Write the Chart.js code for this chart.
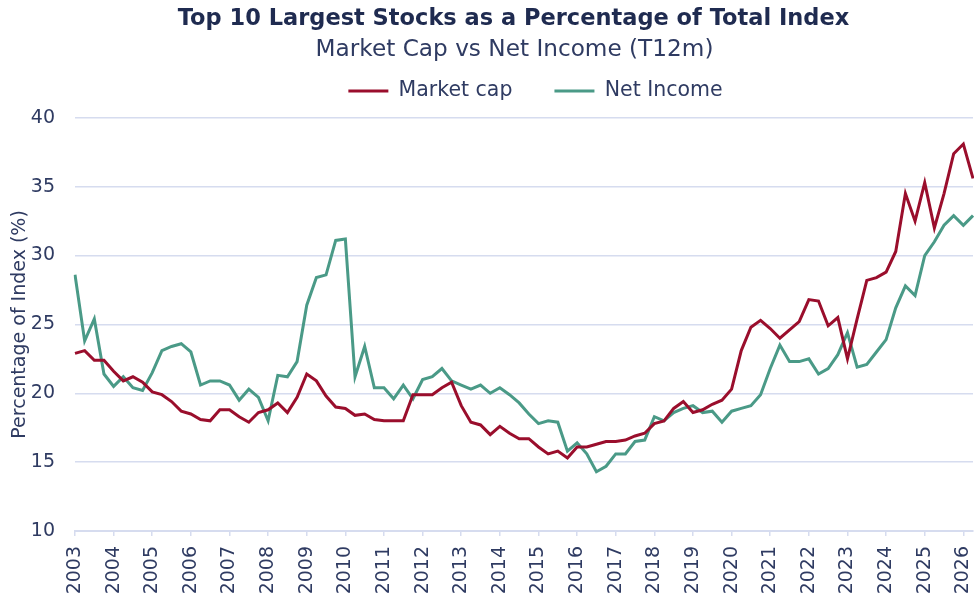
<!DOCTYPE html>
<html>
<head>
<meta charset="utf-8">
<title>Top 10 Largest Stocks as a Percentage of Total Index</title>
<script src="https://cdn.jsdelivr.net/npm/chart.js@4.4.1/dist/chart.umd.min.js"></script>
<style>
  html, body { margin: 0; padding: 0; background: #fff; }
  #wrap { width: 974px; height: 595px; }
</style>
</head>
<body>
<div id="wrap"><canvas id="chart"></canvas></div>
<script>
// quarterly data, 2003 Q1 .. 2026 Q2
const years = [2003, 2004, 2005, 2006, 2007, 2008, 2009, 2010, 2011, 2012, 2013, 2014,
  2015, 2016, 2017, 2018, 2019, 2020, 2021, 2022, 2023, 2024, 2025, 2026];

const marketCap = [
  22.9, 23.1, 22.4, 22.4, 21.6, 20.9, 21.2, 20.8, 20.1, 19.9, 19.4, 18.7,
  18.5, 18.1, 18.0, 18.8, 18.8, 18.3, 17.9, 18.6, 18.8, 19.3, 18.6, 19.7,
  21.4, 20.9, 19.8, 19.0, 18.9, 18.4, 18.5, 18.1, 18.0, 18.0, 18.0, 19.9,
  19.9, 19.9, 20.4, 20.8, 19.1, 17.9, 17.7, 17.0, 17.6, 17.1, 16.7, 16.7,
  16.1, 15.6, 15.8, 15.3, 16.1, 16.1, 16.3, 16.5, 16.5, 16.6, 16.9, 17.1,
  17.8, 18.0, 18.9, 19.4, 18.6, 18.8, 19.2, 19.5, 20.3, 23.1, 24.8, 25.3,
  24.7, 24.0, 24.6, 25.2, 26.8, 26.7, 24.9, 25.5, 22.5, 25.4, 28.2, 28.4,
  28.8, 30.3, 34.5, 32.5, 35.3, 32.0, 34.5, 37.4, 38.1, 35.6
];

const netIncome = [
  28.6, 23.8, 25.4, 21.4, 20.5, 21.2, 20.4, 20.2, 21.5, 23.1, 23.4, 23.6,
  23.0, 20.6, 20.9, 20.9, 20.6, 19.5, 20.3, 19.7, 18.0, 21.3, 21.2, 22.3,
  26.4, 28.4, 28.6, 31.1, 31.2, 21.2, 23.4, 20.4, 20.4, 19.6, 20.6, 19.6,
  21.0, 21.2, 21.8, 20.9, 20.6, 20.3, 20.6, 20.0, 20.4, 19.9, 19.3, 18.5,
  17.8, 18.0, 17.9, 15.8, 16.4, 15.6, 14.3, 14.7, 15.6, 15.6, 16.5, 16.6,
  18.3, 18.0, 18.6, 18.9, 19.1, 18.6, 18.7, 17.9, 18.7, 18.9, 19.1, 19.9,
  21.8, 23.5, 22.3, 22.3, 22.5, 21.4, 21.8, 22.8, 24.4, 21.9, 22.1, 23.0,
  23.9, 26.2, 27.8, 27.1, 30.0, 31.0, 32.2, 32.9, 32.2, 32.9
];

const quarters = [];
years.forEach(y => ['Q1', 'Q2', 'Q3', 'Q4'].forEach(q => quarters.push(q + ' ' + y)));
const labels = quarters.slice(0, marketCap.length);

const titleText = 'Top 10 Largest Stocks as a Percentage of Total Index';
const subtitleText = 'Market Cap vs Net Income (T12m)';
const textColor = '#2f3b62';
const gridColor = '#d6dcef';
const fontFamily = '"DejaVu Sans", sans-serif';

// the header in the original sits a bit right of the page centre,
// and the legend items have a wide gap but sit close to the subtitle
const headerNudge = {
  id: 'headerNudge',
  afterLayout(chart) {
    chart.boxes.forEach(box => {
      let dx = 0;
      if (box === chart.legend) {
        dx = 49;
        box.top -= 29;
      } else if (box.options && box.options.text === titleText) {
        dx = 27;
      } else if (box.options && box.options.text === subtitleText) {
        dx = 28;
      }
      box.left += dx;
      box.right += dx;
    });
  }
};

new Chart(document.getElementById('chart'), {
  type: 'line',
  data: {
    labels: labels,
    datasets: [
      {
        label: 'Market cap',
        data: marketCap,
        borderColor: '#9a0e2c',
        backgroundColor: '#9a0e2c',
        borderWidth: 3,
        pointRadius: 0,
        tension: 0
      },
      {
        label: 'Net Income',
        data: netIncome,
        borderColor: '#4a9a87',
        backgroundColor: '#4a9a87',
        borderWidth: 3,
        pointRadius: 0,
        tension: 0
      }
    ]
  },
  options: {
    responsive: true,
    maintainAspectRatio: false,
    animation: false,
    devicePixelRatio: 1,
    layout: { padding: { left: 0, right: 1, top: 0, bottom: 0 } },
    plugins: {
      title: {
        display: true,
        text: titleText,
        color: '#1f2b50',
        font: { family: fontFamily, size: 22.5, weight: 'bold' },
        padding: { top: 6, bottom: 0 }
      },
      subtitle: {
        display: true,
        text: subtitleText,
        color: textColor,
        font: { family: fontFamily, size: 23.2, weight: 'normal' },
        padding: { top: 3.5, bottom: 3.5 }
      },
      legend: {
        position: 'top',
        maxHeight: 50,
        labels: {
          color: textColor,
          font: { family: fontFamily, size: 20.5 },
          usePointStyle: true,
          pointStyle: 'line',
          pointStyleWidth: 40,
          padding: 42
        }
      },
      tooltip: { enabled: false }
    },
    scales: {
      x: {
        type: 'category',
        afterFit(scale) {
          scale.height = 64;
          scale.paddingLeft = 0;
          scale.paddingRight = 0;
        },
        grid: {
          drawOnChartArea: false,
          color: gridColor,
          lineWidth: 1.5,
          tickLength: 5
        },
        border: { color: gridColor, width: 2 },
        ticks: {
          autoSkip: false,
          maxRotation: 90,
          minRotation: 90,
          padding: 10,
          color: textColor,
          font: { family: fontFamily, size: 19 },
          callback: function (value) {
            const label = this.getLabelForValue(value);
            return label.startsWith('Q1') ? label.slice(3) : null;
          }
        }
      },
      y: {
        min: 10,
        max: 40,
        afterFit(scale) {
          scale.width = 75;
        },
        grid: { color: gridColor, lineWidth: 1.5, drawTicks: false },
        border: { display: false },
        ticks: {
          stepSize: 5,
          padding: 20,
          color: textColor,
          font: { family: fontFamily, size: 19 }
        },
        title: {
          display: true,
          text: 'Percentage of Index (%)',
          color: textColor,
          font: { family: fontFamily, size: 19 },
          padding: { top: 9, bottom: 0 }
        }
      }
    }
  },
  plugins: [headerNudge]
});
</script>
</body>
</html>
